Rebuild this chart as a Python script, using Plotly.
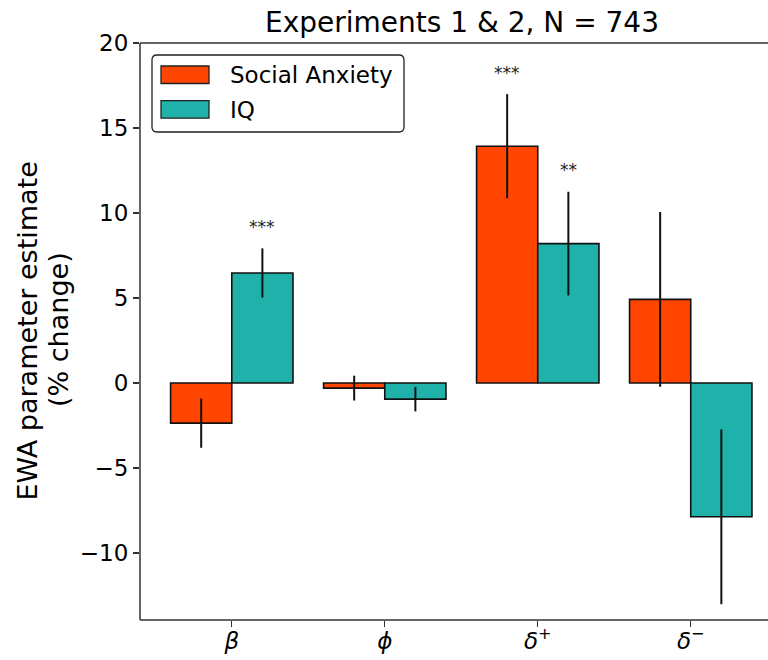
import plotly.graph_objects as go

categories = ["<i>β</i>", "<i>ϕ</i>", "<i>δ</i><sup>+</sup>", "<i>δ</i><sup>−</sup>"]
cat_pos = [0, 1, 2, 3]
series_names = ["Social Anxiety", "IQ"]
sa_values = [-2.36, -0.30, 13.93, 4.92]
sa_errors = [1.45, 0.73, 3.06, 5.14]
iq_values = [6.47, -0.95, 8.20, -7.87]
iq_errors = [1.45, 0.72, 3.05, 5.14]
sa_sig = ["", "", "***", ""]
iq_sig = ["***", "", "**", ""]
y_ticks = [-10, -5, 0, 5, 10, 15, 20]
colors = ["#FF4500", "#20B2AA"]

W_FIG, H_FIG = 768, 660
L, T, R, B = 140, 43, 0, 40
PW, PH = W_FIG - L - R, H_FIG - T - B

def px(x):
    return (x - L) / PW

def py(y):
    return 1 - (y - T) / PH

FONT = "DejaVu Sans"
SPINE = "#333"

fig = go.Figure()
for name, vals, errs, col in [(series_names[0], sa_values, sa_errors, colors[0]),
                              (series_names[1], iq_values, iq_errors, colors[1])]:
    fig.add_trace(go.Bar(
        x=cat_pos, y=vals, name=name,
        marker=dict(color=col, line=dict(color="#111", width=1.6)),
        error_y=dict(type="data", array=errs, visible=True, color="#111",
                     thickness=2, width=0),
        showlegend=False,
    ))

fig.update_layout(
    width=W_FIG, height=H_FIG,
    margin=dict(l=L, r=R, t=T, b=B),
    plot_bgcolor="white", paper_bgcolor="white",
    barmode="group", bargap=0.2, bargroupgap=0,
    font=dict(family=FONT, color="black"),
    xaxis=dict(range=[-0.6, 3.505], tickvals=cat_pos, ticktext=categories,
               showgrid=False, zeroline=False, showline=False,
               ticks="outside", ticklen=6, ticklabelstandoff=-6,
               tickwidth=1.3, tickcolor=SPINE, tickfont=dict(size=23, family=FONT, color="black")),
    yaxis=dict(range=[-13.94, 20], tickvals=y_ticks, showgrid=False, zeroline=False,
               showline=False,
               ticks="outside", ticklen=6, tickwidth=1.3, tickcolor=SPINE,
               tickfont=dict(size=23, family=FONT, color="black")),
)

# Spines: left, bottom, top (right spine lies outside the visible canvas)
for (x0, y0, x1, y1) in [(0, 0, 0, 1), (0, 0, 1, 0), (0, 1, 1, 1)]:
    fig.add_shape(type="line", xref="paper", yref="paper", x0=x0, x1=x1, y0=y0, y1=y1,
                  line=dict(color=SPINE, width=1.5), layer="above")

# Significance stars
sig_offset = 1.5
STAR_FONT = dict(size=17, family=FONT, color="#222")
for i, (v, e, s) in enumerate(zip(sa_values, sa_errors, sa_sig)):
    if s:
        fig.add_annotation(x=cat_pos[i] - 0.2, y=v + e + sig_offset, text=s,
                           showarrow=False, font=STAR_FONT,
                           yanchor="middle", yshift=-4)
for i, (v, e, s) in enumerate(zip(iq_values, iq_errors, iq_sig)):
    if s:
        fig.add_annotation(x=cat_pos[i] + 0.2, y=v + e + sig_offset, text=s,
                           showarrow=False, font=STAR_FONT,
                           yanchor="middle", yshift=-4)

# Title
fig.add_annotation(xref="paper", yref="paper", x=px(462), y=py(22),
                   text="Experiments 1 & 2, N = 743", showarrow=False,
                   font=dict(size=28, family=FONT, color="black"),
                   xanchor="center", yanchor="middle")

# Y axis label (two lines)
fig.add_annotation(xref="paper", yref="paper", x=px(27), y=py(331.5),
                   text="EWA parameter estimate", textangle=-90, showarrow=False,
                   font=dict(size=27, family=FONT, color="black"),
                   xanchor="center", yanchor="middle")
fig.add_annotation(xref="paper", yref="paper", x=px(58), y=py(330),
                   text="(% change)", textangle=-90, showarrow=False,
                   font=dict(size=27, family=FONT, color="black"),
                   xanchor="center", yanchor="middle")

# Legend (custom, matplotlib-like)
bx0, by0, bx1, by1, rr = 152, 55, 404, 132, 5
path = (f"M {px(bx0+rr)},{py(by0)} L {px(bx1-rr)},{py(by0)} "
        f"Q {px(bx1)},{py(by0)} {px(bx1)},{py(by0+rr)} L {px(bx1)},{py(by1-rr)} "
        f"Q {px(bx1)},{py(by1)} {px(bx1-rr)},{py(by1)} L {px(bx0+rr)},{py(by1)} "
        f"Q {px(bx0)},{py(by1)} {px(bx0)},{py(by1-rr)} L {px(bx0)},{py(by0+rr)} "
        f"Q {px(bx0)},{py(by0)} {px(bx0+rr)},{py(by0)} Z")
fig.add_shape(type="path", xref="paper", yref="paper", path=path,
              line=dict(color="#222", width=1.3), fillcolor="rgba(255,255,255,0.85)")
row_y = [66, 100.7]
for k, name in enumerate(series_names):
    y0 = row_y[k]
    fig.add_shape(type="rect", xref="paper", yref="paper",
                  x0=px(161), x1=px(209), y0=py(y0), y1=py(y0 + 17.5),
                  line=dict(color="#222", width=1.3), fillcolor=colors[k])
    fig.add_annotation(xref="paper", yref="paper", x=px(228), y=py(y0 + 9),
                       text=name, showarrow=False, xanchor="left", yanchor="middle",
                       font=dict(size=23, family=FONT, color="black"))

fig.write_html("out.html", config={"staticPlot": True})
